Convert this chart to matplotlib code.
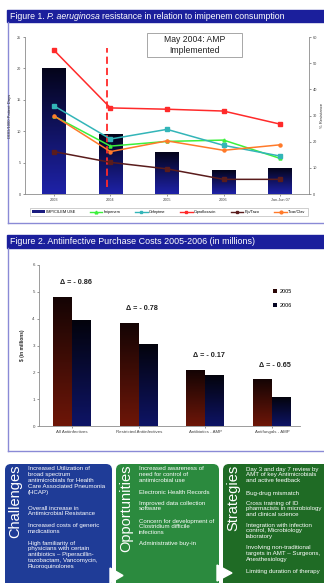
import matplotlib.pyplot as plt
import numpy as np
from matplotlib.colors import LinearSegmentedColormap
from matplotlib.lines import Line2D
from matplotlib.patches import FancyBboxPatch, Patch, Polygon, Rectangle

W, H = 324, 583

# Figure 1: imipenem use (DDD/1000 patient days) and % resistance
years = ["2003", "2004", "2005", "2006", "Jan-Jun 07"]
imp_use = [20.0, 9.5, 6.6, 3.8, 4.0]
imipenem = [29.8, 18.3, 20.1, 20.6, 13.6]
cefepime = [33.7, 21.0, 24.7, 18.6, 14.5]
ciprofloxacin = [55.0, 32.9, 32.4, 31.7, 26.7]
pip_tazo = [16.2, 12.1, 9.6, 5.6, 5.6]
ticar_clav = [29.9, 16.2, 20.3, 16.7, 18.8]
amp_start = 0.94  # May 2004

# Figure 2: purchase costs in millions
cost_groups = ["All Antiinfectives", "Restricted Antiinfectives",
               "Antibiotics - AMP", "Antifungals - AMP"]
cost_2005 = [4.80, 3.82, 2.07, 1.72]
cost_2006 = [3.94, 3.04, 1.90, 1.07]

challenges = [
    ["Increased Utilization of", "broad spectrum", "antimicrobials for Health",
     "Care Associated Pneumonia", "(HCAP)"],
    ["Overall increase in", "Antimicrobial Resistance"],
    ["Increased costs of generic", "medications"],
    ["High familiarity of", "physicians with certain", "antibiotics \u2013 Piperacillin-",
     "tazobactam, Vancomycin,", "Fluoroquinolones"],
]
opportunities = [
    ["Increased awareness of", "need for control of", "antimicrobial use"],
    ["Electronic Health Records"],
    ["Improved data collection", "software"],
    ["Concern for development of", "Clostridium difficile", "infections"],
    ["Administrative buy-in"],
]
strategies = [
    ["Day 3 and day 7 review by", "AMT of key Antimicrobials", "and active feedback"],
    ["Bug-drug mismatch"],
    ["Cross training of ID", "pharmacists in microbiology", "and clinical science"],
    ["Integration with infection", "control, Microbiology", "laboratory"],
    ["Involving non-traditional", "targets in AMT \u2013 Surgeons,", "Anesthesiology"],
    ["Limiting duration of therapy"],
]

plt.rcParams["font.family"] = ["Liberation Sans", "DejaVu Sans"]

HEADER = "#1b1f9c"
BORDER = "#8a8ad6"
GRAY = "#8c8c8c"


def px_axes(fig, left, top, right, bottom):
    return fig.add_axes([left / W, 1 - bottom / H, (right - left) / W, (bottom - top) / H])


def gradient_bars(ax, bars, top_color, bottom_color):
    cmap = LinearSegmentedColormap.from_list("bar", [bottom_color, top_color])
    grad = np.linspace(0, 1, 256).reshape(-1, 1)
    for bar in bars:
        x0, y0 = bar.get_x(), bar.get_y()
        w, h = bar.get_width(), bar.get_height()
        bar.set_facecolor("none")
        ax.imshow(grad, extent=(x0, x0 + w, y0, y0 + h), origin="lower",
                  cmap=cmap, aspect="auto", zorder=2)


def style_axis(ax, size):
    for side in ("top", "right"):
        ax.spines[side].set_visible(False)
    for side in ("left", "bottom"):
        ax.spines[side].set_color(GRAY)
        ax.spines[side].set_linewidth(0.6)
    ax.tick_params(labelsize=size, colors="#444444", length=1.5, width=0.4, pad=1.5)
    ax.set_facecolor("none")


fig = plt.figure(figsize=(W / 100, H / 100), dpi=100)

bg = fig.add_axes([0, 0, 1, 1])
bg.set_xlim(0, W)
bg.set_ylim(H, 0)
bg.axis("off")

# panel headers and borders; the species name is chained as italic text
bg.add_patch(Rectangle((7, 10), 320, 12, color=HEADER))
t1 = bg.text(10, 19, "Figure 1.", color="white", fontsize=6.3, va="baseline")
t2 = bg.annotate("P. aeruginosa", xy=(1, 0), xycoords=t1, xytext=(1.6, 0),
                 textcoords="offset points", color="white", fontsize=6.3,
                 style="italic", va="bottom")
bg.annotate("resistance in relation to imipenem consumption", xy=(1, 0), xycoords=t2,
            xytext=(1.6, 0), textcoords="offset points", color="white",
            fontsize=6.3, va="bottom")
bg.plot([8, 8], [22, 223], color=BORDER, lw=1)
bg.plot([8, 324], [223, 223], color=BORDER, lw=1)

bg.add_patch(Rectangle((7, 235), 320, 13, color=HEADER))
bg.text(10, 241.5, "Figure 2. Antiinfective Purchase Costs 2005-2006 (in millions)",
        color="white", fontsize=6.4, va="center")
bg.plot([8, 8], [248, 451], color=BORDER, lw=1)
bg.plot([8, 324], [451, 451], color=BORDER, lw=1)

# ---- Figure 1 ----
ax1 = px_axes(fig, 25, 37, 309, 194)
x = np.arange(len(years))
bars = ax1.bar(x, imp_use, width=0.42, zorder=2)
gradient_bars(ax1, bars, "#04041a", "#1e22a8")
ax1.plot([amp_start, amp_start], [1.1, 23.2], color="#ff2a2a", lw=1.3,
         ls=(0, (4, 2.2)), zorder=3)
ax1.set_xlim(-0.51, 4.51)
ax1.set_ylim(0, 25)
ax1.set_yticks(range(0, 26, 5))
ax1.set_xticks(x)
ax1.set_xticklabels(years)
ax1.set_ylabel("DDD/1000 Patient Days", fontsize=3, color="#333333", labelpad=3)
style_axis(ax1, 2.8)

ax1r = ax1.twinx()
series = [
    ("Imipenem", imipenem, "#3cf03c", "^"),
    ("Cefepime", cefepime, "#33b5b8", "s"),
    ("Ciprofloxacin", ciprofloxacin, "#ff2a2a", "s"),
    ("Pip/Tazo", pip_tazo, "#5a1c1c", "s"),
    ("Ticar/Clav", ticar_clav, "#ff7a2a", "o"),
]
for name, vals, color, marker in series:
    ax1r.plot(x, vals, color=color, lw=1.1, marker=marker, ms=2.2, zorder=4)
ax1r.set_ylim(0, 60)
ax1r.set_yticks(range(0, 61, 10))
ax1r.set_ylabel("% Resistance", fontsize=3, color="#333333", labelpad=1.5)
for side in ("top", "left", "bottom"):
    ax1r.spines[side].set_visible(False)
ax1r.spines["right"].set_color(GRAY)
ax1r.spines["right"].set_linewidth(0.6)
ax1r.tick_params(labelsize=2.8, colors="#444444", length=1.5, width=0.4, pad=1.5)

bg.add_patch(Rectangle((147, 33), 95, 24, facecolor="white", edgecolor="#999999", lw=0.6))
bg.text(194.5, 45, "May 2004: AMP\nImplemented", fontsize=6.2, ha="center", va="center",
        linespacing=1.15, color="#222222")

handles = [Patch(facecolor="#1a1c80")]
labels = ["IMP/CILEM USE"]
for name, vals, color, marker in series:
    handles.append(Line2D([], [], color=color, lw=1, marker=marker, ms=2))
    labels.append(name)
fig.legend(handles, labels, loc="center", ncol=6, mode="expand",
           bbox_to_anchor=(28 / W, 1 - 218 / H, 282 / W, 12 / H),
           bbox_transform=fig.transFigure, fontsize=2.8, frameon=True,
           fancybox=False, edgecolor="#aaaaaa", handlelength=3.2,
           handleheight=0.6, borderpad=0.6, handletextpad=0.4).get_frame().set_linewidth(0.5)

# ---- Figure 2 ----
ax2 = px_axes(fig, 39, 265, 300, 426)
g = np.arange(len(cost_groups))
bw = 0.285
b05 = ax2.bar(g - bw / 2, cost_2005, width=bw, zorder=2)
b06 = ax2.bar(g + bw / 2, cost_2006, width=bw, zorder=2)
gradient_bars(ax2, b05, "#140404", "#6e1608")
gradient_bars(ax2, b06, "#03030c", "#0e1466")
ax2.set_xlim(-0.5, 3.42)
ax2.set_ylim(0, 6)
ax2.set_yticks(range(0, 7))
ax2.set_xticks(g)
ax2.set_xticklabels(cost_groups)
ax2.set_ylabel("\\$ (in millions)", fontsize=3.4, fontweight="bold",
               color="#222222", labelpad=5)
style_axis(ax2, 3.2)

for i, (a, b) in enumerate(zip(cost_2005, cost_2006)):
    ax2.text(i + 0.05, a + 0.55, f"\u0394 = - {a - b:.2f}", fontsize=5.2,
             fontweight="bold", ha="center", va="center", color="#222222")

ax2.legend([Patch(facecolor="#2a0606"), Patch(facecolor="#050522")], ["2005", "2006"],
           loc="upper left", bbox_to_anchor=(268 / W, 1 - 284 / H),
           bbox_transform=fig.transFigure, frameon=False, fontsize=4,
           handlelength=0.7, handleheight=0.7, labelspacing=1.6, handletextpad=0.5)

# ---- Challenges / Opportunities / Strategies ----
boxes = [
    ("Challenges", challenges, 5, 112, "#1f3c97", [469, 508, 526, 543]),
    ("Opportunities", opportunities, 116, 219, "#2b8a3e", [469, 493, 503, 521, 543]),
    ("Strategies", strategies, 223, 334, "#1f6b25", [469, 493, 503, 525, 548, 572]),
]
for title, items, x0, x1, color, starts in boxes:
    bg.add_patch(FancyBboxPatch((x0, 464), x1 - x0, 140,
                                boxstyle="round,pad=0,rounding_size=6",
                                facecolor=color, edgecolor="none"))
    bg.text(x0 + 10, 465, title, rotation=90, ha="center", va="top",
            color="white", fontsize=10.5)
    for item, y0 in zip(items, starts):
        for k, line in enumerate(item):
            bg.text(x0 + 23, y0 + k * 5.8, line, fontsize=4.4, color="white", va="center")

bg.add_patch(Polygon([(110, 568), (110, 583), (123, 575.5)], closed=True, color="white"))
bg.add_patch(Polygon([(217, 565), (217, 581), (232, 573)], closed=True, color="white"))

fig.savefig("out.png", dpi=100)
